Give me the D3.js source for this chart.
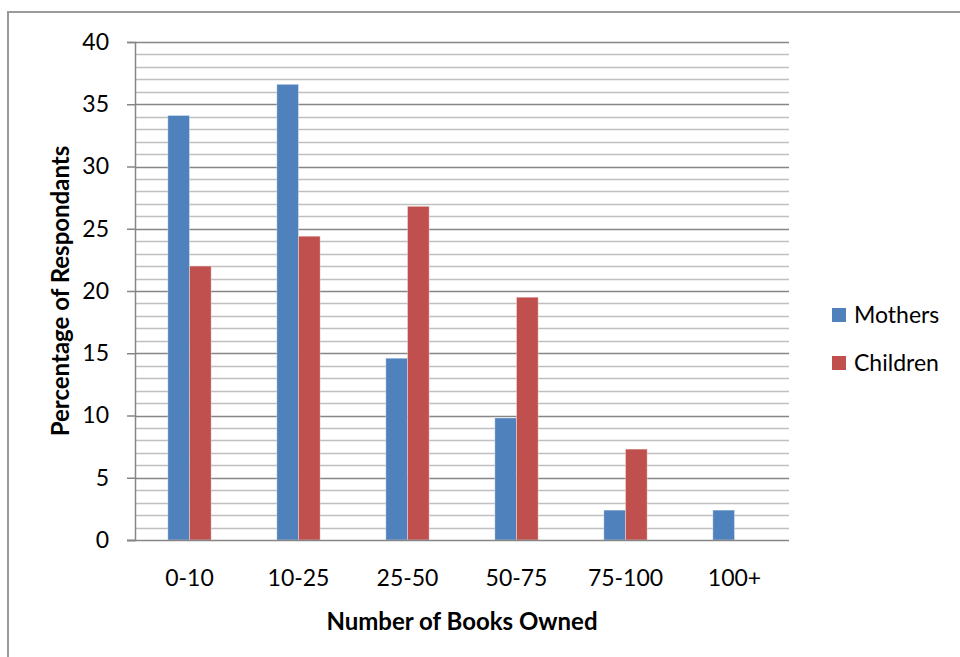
<!DOCTYPE html>
<html>
<head>
<meta charset="utf-8">
<script src="https://cdn.jsdelivr.net/npm/d3@7"></script>
<style>
  html, body { margin: 0; padding: 0; background: #ffffff; }
  svg text { font-family: "Lato", "Open Sans", sans-serif; fill: #000; }
</style>
</head>
<body>
<svg id="chart" width="960" height="657"></svg>
<script>
// Book ownership survey: share of respondents per bracket
const categories = ["0-10", "10-25", "25-50", "50-75", "75-100", "100+"];
const seriesNames = ["Mothers", "Children"];
const mothers = [34.1, 36.6, 14.6, 9.8, 2.4, 2.4];
const children = [22.0, 24.4, 26.8, 19.5, 7.3, 0];
const yTicks = [0, 5, 10, 15, 20, 25, 30, 35, 40];
const colors = ["#4F81BD", "#C0504D"];

const svg = d3.select("#chart");

// outer chart frame
svg.append("rect")
  .attr("x", 8).attr("y", 12)
  .attr("width", 970).attr("height", 670)
  .attr("fill", "none")
  .attr("stroke", "#9a9a9a")
  .attr("stroke-width", 2);

const plot = { left: 135, right: 789, top: 42, bottom: 540 };

const x = d3.scaleBand()
  .domain(categories)
  .range([plot.left, plot.right]);

const xInner = d3.scaleBand()
  .domain(seriesNames)
  .range([0, x.bandwidth()])
  .paddingOuter(1.515);

const y = d3.scaleLinear()
  .domain([0, 40])
  .range([plot.bottom, plot.top]);

// minor gridlines every unit
const minor = d3.range(1, 41).filter(v => v % 5 !== 0);
svg.append("g").selectAll("line").data(minor).join("line")
  .attr("x1", plot.left).attr("x2", plot.right)
  .attr("y1", d => Math.round(y(d)) + 0.5).attr("y2", d => Math.round(y(d)) + 0.5)
  .attr("stroke", "#bfbfbf").attr("stroke-width", 1.5);

// major gridlines every five
svg.append("g").selectAll("line").data(yTicks.filter(v => v > 0)).join("line")
  .attr("x1", plot.left).attr("x2", plot.right)
  .attr("y1", d => Math.round(y(d)) + 0.5).attr("y2", d => Math.round(y(d)) + 0.5)
  .attr("stroke", "#868686").attr("stroke-width", 1.5);

// bars
const rows = categories.map((c, i) => ({ cat: c, vals: [mothers[i], children[i]] }));
const groups = svg.append("g").selectAll("g").data(rows).join("g")
  .attr("transform", d => `translate(${x(d.cat)},0)`);
groups.selectAll("rect")
  .data(d => d.vals.map((v, j) => ({ name: seriesNames[j], v, j })).filter(e => e.v > 0))
  .join("rect")
  .attr("x", d => xInner(d.name))
  .attr("width", xInner.bandwidth())
  .attr("y", d => y(d.v))
  .attr("height", d => y(0) - y(d.v))
  .attr("fill", d => colors[d.j])
  .attr("stroke", "rgba(255,255,255,0.35)")
  .attr("stroke-width", 1);

// y axis
const yAxis = d3.axisLeft(y).tickValues(yTicks).tickSize(8).tickPadding(18);
const gy = svg.append("g").attr("transform", `translate(${plot.left},0)`).call(yAxis);
gy.select(".domain").attr("stroke", "#868686").attr("stroke-width", 1.5);
gy.selectAll(".tick line").attr("stroke", "#868686").attr("stroke-width", 1.5);
gy.selectAll(".tick text").style("font-size", "23px").attr("fill", "#000");

// x axis baseline and category labels
const xAxis = d3.axisBottom(x).tickSize(0).tickPadding(30);
const gx = svg.append("g").attr("transform", `translate(0,${plot.bottom})`).call(xAxis);
gx.select(".domain").attr("stroke", "#868686").attr("stroke-width", 1.5)
  .attr("d", `M${plot.left - 8},0.5H${plot.right}`);
gx.selectAll(".tick text").style("font-size", "23px").attr("fill", "#000");

// axis titles
svg.append("text")
  .attr("x", 462).attr("y", 630)
  .attr("text-anchor", "middle")
  .style("font-size", "24px").style("font-weight", "bold")
  .text("Number of Books Owned");

svg.append("text")
  .attr("transform", "translate(69,291) rotate(-90)")
  .attr("text-anchor", "middle")
  .style("font-size", "24px").style("font-weight", "bold")
  .text("Percentage of Respondants");

// legend
const legend = svg.append("g").selectAll("g").data(seriesNames).join("g")
  .attr("transform", (d, i) => `translate(832,${308 + i * 48})`);
legend.append("rect")
  .attr("width", 14).attr("height", 14)
  .attr("fill", (d, i) => colors[i]);
legend.append("text")
  .attr("x", 22).attr("y", 7).attr("dy", "0.35em")
  .style("font-size", "23px")
  .text(d => d);
</script>
</body>
</html>
